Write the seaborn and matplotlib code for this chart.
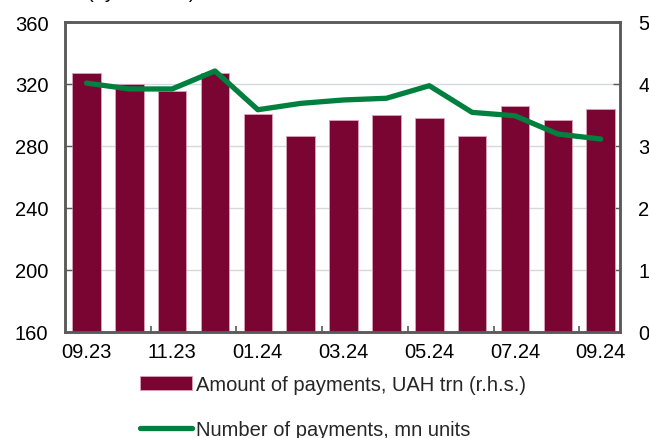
import matplotlib
matplotlib.use("Agg")
import matplotlib.pyplot as plt
from matplotlib.ticker import FixedLocator
import seaborn as sns
import pandas as pd
import numpy as np

months = ["09.23", "10.23", "11.23", "12.23", "01.24", "02.24", "03.24",
          "04.24", "05.24", "06.24", "07.24", "08.24", "09.24"]
amount_uah_trn = [4.18, 4.00, 3.88, 4.18, 3.51, 3.16, 3.42, 3.50, 3.45, 3.16, 3.65, 3.42, 3.59]
number_mn = [320.6, 316.8, 316.8, 328.4, 303.4, 307.5, 309.7, 310.8, 318.9, 301.7, 299.5, 287.7, 284.5]
tick_labels = ["09.23", "11.23", "01.24", "03.24", "05.24", "07.24", "09.24"]

bar_label = "Amount of payments, UAH trn (r.h.s.)"
line_label = "Number of payments, mn units"

sns.set_theme(style="white")
plt.rcParams["font.family"] = ["Liberation Sans", "DejaVu Sans"]

df = pd.DataFrame({"pos": np.arange(len(months)), "month": months,
                   "amount": amount_uah_trn, "number": number_mn})

fig = plt.figure(figsize=(6.49, 4.39), dpi=100)
ax = fig.add_axes([65 / 649, (439 - 333) / 439, (620 - 65) / 649, (333 - 23) / 439])
ax2 = ax.twinx()

bar_color = "#7B0532"
line_color = "#00803F"
spine_color = "#5a5a5a"
fs = 14.5

sns.barplot(data=df, x="pos", y="amount", ax=ax2, color=bar_color, width=0.665,
            edgecolor="#d9a3b6", linewidth=0.6, saturation=1, label=bar_label)
sns.lineplot(data=df, x="pos", y="number", ax=ax, color=line_color, linewidth=3.8,
             label=line_label)

ax.set_zorder(ax2.get_zorder() + 1)
ax.patch.set_visible(False)

ax.set_xlim(-0.5, 12.45)
ax2.set_xlim(-0.5, 12.45)
ax.set_ylim(160, 360)
ax2.set_ylim(0, 5)
ax.set_yticks(np.arange(160, 361, 40))
ax2.set_yticks(np.arange(0, 6, 1))

ax2.grid(axis="y", color="#d5d9dc", linewidth=1)
ax2.set_axisbelow(True)
ax.grid(False)

ax.set_xticks(np.arange(0, 13, 2))
ax.set_xticklabels(tick_labels)
ax.xaxis.set_minor_locator(FixedLocator(np.arange(1.5, 12, 2)))
ax.tick_params(axis="x", which="major", length=0, pad=7, labelsize=fs, colors="black")
ax.tick_params(axis="x", which="minor", length=4, width=1.2, direction="in",
               color=spine_color, bottom=True)
ax2.tick_params(axis="x", bottom=False, labelbottom=False)

ax.tick_params(axis="y", length=5, width=1, direction="in", color=spine_color,
               pad=12, labelsize=fs, labelcolor="black")
ax2.tick_params(axis="y", length=5, width=1, direction="in", color=spine_color,
                pad=13, labelsize=fs, labelcolor="black")

for a in (ax, ax2):
    a.set_xlabel("")
    a.set_ylabel("")
    for s in a.spines.values():
        s.set_color(spine_color)
        s.set_linewidth(1.8)
        s.set_visible(True)

h1, l1 = ax2.get_legend_handles_labels()
h2, l2 = ax.get_legend_handles_labels()
for a in (ax, ax2):
    if a.get_legend():
        a.get_legend().remove()
fig.legend(h1 + h2, l1 + l2, loc="upper left", bbox_to_anchor=(140 / 649, 1 - 376 / 439),
           frameon=False, fontsize=fs, labelspacing=1.3, handlelength=2.6,
           handletextpad=0.2, borderaxespad=0, borderpad=0)

fig.text(87 / 649, 1 + 1.5 / 439, "(by number)", fontsize=fs, va="baseline",
         ha="left", color="black")

fig.savefig("out.png", dpi=100)
